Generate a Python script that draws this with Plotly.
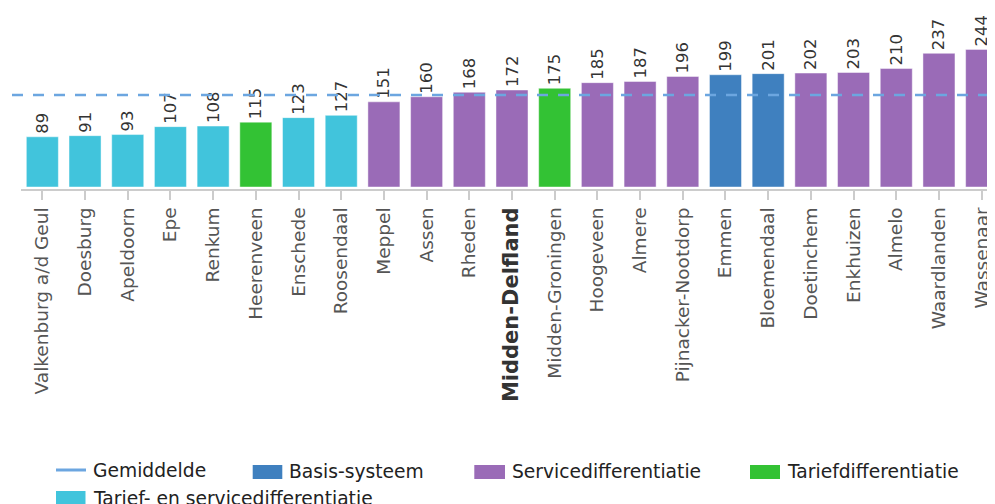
import plotly.graph_objects as go

# ---- data ----
gemeenten = ["Valkenburg a/d Geul", "Doesburg", "Apeldoorn", "Epe", "Renkum",
             "Heerenveen", "Enschede", "Roosendaal", "Meppel", "Assen", "Rheden",
             "Midden-Delfland", "Midden-Groningen", "Hoogeveen", "Almere",
             "Pijnacker-Nootdorp", "Emmen", "Bloemendaal", "Doetinchem",
             "Enkhuizen", "Almelo", "Waardlanden", "Wassenaar"]
waarden = [89, 91, 93, 107, 108, 115, 123, 127, 151, 160, 168, 172, 175,
           185, 187, 196, 199, 201, 202, 203, 210, 237, 244]
systeem = ["Tarief- en servicedifferentiatie"] * 5 + ["Tariefdifferentiatie"] + \
          ["Tarief- en servicedifferentiatie"] * 2 + ["Servicedifferentiatie"] * 4 + \
          ["Tariefdifferentiatie"] + ["Servicedifferentiatie"] * 3 + \
          ["Basis-systeem"] * 2 + ["Servicedifferentiatie"] * 5
gemiddelde = 163
highlight = "Midden-Delfland"

series_order = ["Basis-systeem", "Servicedifferentiatie", "Tariefdifferentiatie",
                "Tarief- en servicedifferentiatie"]
colors = {"Basis-systeem": "#3F80BF", "Servicedifferentiatie": "#9A6BB7",
          "Tariefdifferentiatie": "#33C234",
          "Tarief- en servicedifferentiatie": "#41C4DC"}
line_color = "#6CA6E0"

# ---- geometry (figure pixels; page has an 8px body margin) ----
OFF = 8
W, H = 995, 504
L, R, T = 21 - OFF, 0, 0
PLOT_BOTTOM = 189 - OFF
PW = W - L - R
PH = PLOT_BOTTOM - T
PX_PER_UNIT = 0.564


def fx(page_px):
    return (page_px - OFF - L) / PW


def fy(page_py):
    return (PLOT_BOTTOM - (page_py - OFF)) / PH


fig = go.Figure()
for s in series_order:
    xs = [g for g, t in zip(gemeenten, systeem) if t == s]
    ys = [v for v, t in zip(waarden, systeem) if t == s]
    fig.add_trace(go.Bar(
        x=xs, y=ys, name=s, text=[str(v) for v in ys],
        textposition="outside", textangle=-90, constraintext="none",
        textfont=dict(family="DejaVu Sans", size=16.5, color="#333333"),
        cliponaxis=False,
        marker=dict(color=colors[s], line=dict(color="rgba(255,255,255,0.45)", width=1)),
        showlegend=False,
    ))

ticktext = []
for g in gemeenten:
    if g == highlight:
        ticktext.append('<span style="font-size:21px;color:#333333"><b>%s</b></span>' % g)
    else:
        ticktext.append(g)

y_low = -2 / PX_PER_UNIT
y_high = y_low + PH / PX_PER_UNIT

fig.update_layout(
    width=W, height=H,
    margin=dict(l=L, r=R, t=T, b=H - PLOT_BOTTOM, pad=0),
    paper_bgcolor="white", plot_bgcolor="white",
    barmode="overlay", bargap=0.25,
    showlegend=False,
    font=dict(family="DejaVu Sans", color="#555555"),
    xaxis=dict(
        type="category", categoryorder="array", categoryarray=gemeenten,
        tickmode="array", tickvals=gemeenten, ticktext=ticktext,
        range=[-0.5, len(gemeenten) - 0.5], tickangle=-90,
        tickfont=dict(family="DejaVu Sans", size=18.5, color="#555555"),
        showline=True, linecolor="#CCCCCC", linewidth=2,
        ticks="outside", ticklen=9, tickwidth=2, tickcolor="#CCCCCC",
        showgrid=False, zeroline=False, fixedrange=True,
    ),
    yaxis=dict(range=[y_low, y_high], visible=False, showgrid=False,
               zeroline=False, fixedrange=True),
)

# average line
fig.add_shape(type="line", xref="paper", yref="y", x0=fx(12), x1=1.0,
              y0=gemiddelde, y1=gemiddelde,
              line=dict(color=line_color, width=2.5, dash="11px,10px"), layer="above")

# manual legend (page pixel positions)
legend_items = [
    ("Gemiddelde", "line", 56, 86, 470),
    ("Basis-systeem", "box", 252.7, 282.3, 472),
    ("Servicedifferentiatie", "box", 474.3, 505, 472),
    ("Tariefdifferentiatie", "box", 750, 780, 472),
    ("Tarief- en servicedifferentiatie", "box", 56, 85.5, 498),
]
for name, kind, x0, x1, yc in legend_items:
    if kind == "line":
        fig.add_shape(type="line", xref="paper", yref="paper",
                      x0=fx(x0), x1=fx(x1), y0=fy(yc), y1=fy(yc),
                      line=dict(color=line_color, width=3))
    else:
        fig.add_shape(type="rect", xref="paper", yref="paper",
                      x0=fx(x0), x1=fx(x1), y0=fy(yc - 7), y1=fy(yc + 7),
                      fillcolor=colors[name], line=dict(width=0))
    fig.add_annotation(text=name, xref="paper", yref="paper",
                       x=fx(x1 + 5), y=fy(yc), xanchor="left", yanchor="middle",
                       showarrow=False,
                       font=dict(family="DejaVu Sans", size=18.7, color="#222222"))

fig.write_html("out.html")
